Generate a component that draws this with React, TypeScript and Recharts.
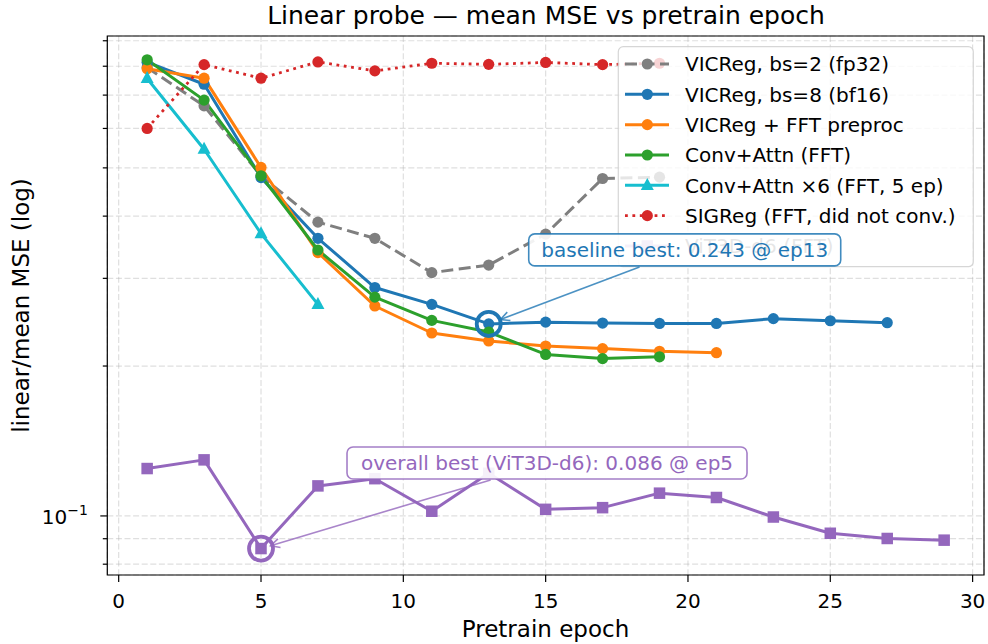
import React from 'react';
import {
  ComposedChart,
  Line,
  XAxis,
  YAxis,
  CartesianGrid,
  ReferenceDot,
  ReferenceArea,
  Customized,
} from 'recharts';

const FONT = '"DejaVu Sans", sans-serif';

// ---------- data ----------
const epochsTo19 = [1, 3, 5, 7, 9, 11, 13, 15, 17, 19];
const epochsTo21 = [1, 3, 5, 7, 9, 11, 13, 15, 17, 19, 21];
const epochsTo27 = [1, 3, 5, 7, 9, 11, 13, 15, 17, 19, 21, 23, 25, 27];
const epochsTo29 = [1, 3, 5, 7, 9, 11, 13, 15, 17, 19, 21, 23, 25, 27, 29];
const epochsTo7 = [1, 3, 5, 7];

const vicregBs2 = [0.795, 0.666, 0.482, 0.389, 0.361, 0.308, 0.319, 0.368, 0.476, 0.479];
const vicregBs8 = [0.815, 0.736, 0.478, 0.361, 0.2875, 0.266, 0.243, 0.245, 0.244, 0.2435, 0.2435, 0.249, 0.2466, 0.2444];
const vicregFft = [0.791, 0.757, 0.501, 0.338, 0.264, 0.233, 0.2246, 0.2194, 0.2168, 0.2141, 0.2127];
const convAttn = [0.824, 0.684, 0.482, 0.342, 0.275, 0.247, 0.234, 0.211, 0.207, 0.2087];
const convAttnX6 = [0.756, 0.545, 0.369, 0.266];
const sigreg = [0.6, 0.806, 0.757, 0.816, 0.783, 0.811, 0.807, 0.814, 0.806, 0.811];
const vit3d = [0.1245, 0.1296, 0.086, 0.1149, 0.1188, 0.1022, 0.1218, 0.1031, 0.1039, 0.1111, 0.1089, 0.0995, 0.0923, 0.0901, 0.0894];

const xTicks = [0, 5, 10, 15, 20, 25, 30];
const yTicks = [0.08, 0.09, 0.1, 0.2, 0.3, 0.4, 0.5, 0.6, 0.7, 0.8, 0.9];
const yMajorTicks = [0.1];

const baselineBest = { epoch: 13, value: 0.243, label: 'baseline best: 0.243 @ ep13' };
const overallBest = { epoch: 5, value: 0.086, label: 'overall best (ViT3D-d6): 0.086 @ ep5' };

const X_DOMAIN: [number, number] = [-0.4, 30.4];
const Y_DOMAIN: [number, number] = [0.0761, 0.92];

const rows = (xs: number[], ys: number[]) => xs.map((epoch, i) => ({ epoch, v: ys[i] }));

type Marker = 'circle' | 'square' | 'triangle';
interface SeriesDef {
  name: string;
  color: string;
  data: { epoch: number; v: number }[];
  dash?: string;
  marker: Marker;
  width: number;
}

const series: SeriesDef[] = [
  { name: 'VICReg, bs=2 (fp32)', color: '#7f7f7f', data: rows(epochsTo19, vicregBs2), dash: '12 5.5', marker: 'circle', width: 3 },
  { name: 'VICReg, bs=8 (bf16)', color: '#1f77b4', data: rows(epochsTo27, vicregBs8), marker: 'circle', width: 3 },
  { name: 'VICReg + FFT preproc', color: '#ff7f0e', data: rows(epochsTo21, vicregFft), marker: 'circle', width: 3 },
  { name: 'Conv+Attn (FFT)', color: '#2ca02c', data: rows(epochsTo19, convAttn), marker: 'circle', width: 3 },
  { name: 'Conv+Attn ×6 (FFT, 5 ep)', color: '#17becf', data: rows(epochsTo7, convAttnX6), marker: 'triangle', width: 3 },
  { name: 'SIGReg (FFT, did not conv.)', color: '#d62728', data: rows(epochsTo19, sigreg), dash: '2.8 4.6', marker: 'circle', width: 2.8 },
  { name: 'ViT3D-d6 (FFT)', color: '#9467bd', data: rows(epochsTo29, vit3d), marker: 'square', width: 3 },
];

// ---------- marker drawing ----------
const drawMarker = (m: Marker, color: string, cx: number, cy: number, key?: any) => {
  if (m === 'square') {
    const s = 11.5;
    return <rect key={key} x={cx - s / 2} y={cy - s / 2} width={s} height={s} fill={color} />;
  }
  if (m === 'triangle') {
    const w = 13, h = 12;
    return (
      <path
        key={key}
        d={`M${cx},${cy - h * 0.62} L${cx + w / 2},${cy + h * 0.38} L${cx - w / 2},${cy + h * 0.38} Z`}
        fill={color}
      />
    );
  }
  return <circle key={key} cx={cx} cy={cy} r={5.6} fill={color} />;
};

const makeDot = (m: Marker, color: string) => (p: any) => {
  if (p.cx == null || p.cy == null) return <g key={p.index} />;
  return drawMarker(m, color, p.cx, p.cy, p.index);
};

// ---------- ticks ----------
const XTick = (p: any) => (
  <text x={p.x} y={p.y + 25.5} textAnchor="middle" fontSize={20} fontFamily={FONT} fill="#000">
    {p.payload.value}
  </text>
);

const YTick = (p: any) => {
  const v = p.payload.value;
  const major = yMajorTicks.some((t) => Math.abs(t - v) < 1e-9);
  const len = major ? 7 : 4.5;
  return (
    <g>
      <line x1={p.x - len} x2={p.x} y1={p.y} y2={p.y} stroke="#000" strokeWidth={1.2} />
      {major && (
        <text x={p.x - 19.5} y={p.y + 8} textAnchor="end" fontSize={20} fontFamily={FONT} fill="#000">
          10
          <tspan fontSize={14} dy={-9}>−1</tspan>
        </text>
      )}
    </g>
  );
};

// ---------- legend (drawn in the overlay, above the lines) ----------
const legendShape = () => {
  const x0 = 618.3, y0 = 46.7, w = 355, h = 220;
  const rowY = (i: number) => 64 + i * 30.33;
  return (
    <g fontFamily={FONT}>
      <rect x={x0} y={y0} width={w} height={h} rx={5} fill="#fff" fillOpacity={0.8} stroke="#cccccc" strokeOpacity={0.8} strokeWidth={1.2} />
      {series.map((s, i) => (
        <g key={s.name}>
          <line x1={625} x2={669} y1={rowY(i)} y2={rowY(i)} stroke={s.color} strokeWidth={s.width} strokeDasharray={s.dash} />
          {drawMarker(s.marker, s.color, 647.3, rowY(i))}
          <text x={685} y={rowY(i) + 7.3} fontSize={20} fill="#000">
            {s.name}
          </text>
        </g>
      ))}
    </g>
  );
};

const Titles = () => (
  <g fontFamily={FONT} fill="#000">
    <text x={546} y={24} textAnchor="middle" fontSize={25}>
      Linear probe — mean MSE vs pretrain epoch
    </text>
    <text x={545.5} y={636.5} textAnchor="middle" fontSize={23}>
      Pretrain epoch
    </text>
    <text x={29} y={305.5} textAnchor="middle" fontSize={23} transform="rotate(-90 29 305.5)">
      linear/mean MSE (log)
    </text>
  </g>
);

// ---------- annotations ----------
const makeAnnotation = (color: string, text: string, dx: number, dy: number, w: number, h: number, tipGap: number) => (p: any) => {
  const cx = p.cx, cy = p.cy;
  if (cx == null || cy == null) return <g />;
  const bx = cx + dx, by = cy + dy;
  const vx = cx - bx, vy = cy - by;
  const L = Math.hypot(vx, vy);
  const ux = vx / L, uy = vy / L;
  const t = Math.min(w / 2 / Math.abs(ux), h / 2 / Math.abs(uy)) + 3;
  const sx = bx + ux * t, sy = by + uy * t;
  const tx = cx - ux * tipGap, ty = cy - uy * tipGap;
  const hl = 9, hw = 4.5;
  const hx = tx - ux * hl, hy = ty - uy * hl;
  const px = -uy, py = ux;
  const head = `M${hx + px * hw},${hy + py * hw} L${tx},${ty} L${hx - px * hw},${hy - py * hw}`;
  return (
    <g>
      <circle cx={cx} cy={cy} r={12} fill="none" stroke={color} strokeWidth={3.8} />
      <line x1={sx} y1={sy} x2={tx} y2={ty} stroke={color} strokeOpacity={0.8} strokeWidth={1.6} />
      <path d={head} fill="none" stroke={color} strokeOpacity={0.8} strokeWidth={1.6} />
      <rect x={bx - w / 2} y={by - h / 2} width={w} height={h} rx={6} fill="#fff" fillOpacity={0.9} stroke={color} strokeOpacity={0.85} strokeWidth={1.6} />
      <text x={bx} y={by + 6.8} textAnchor="middle" fontSize={20} fontFamily={FONT} fill={color}>
        {text}
      </text>
    </g>
  );
};

const MARGIN = { top: 36, right: 4, bottom: 29, left: 0 };

const axes = (visible: boolean) => [
  <XAxis
    key="x"
    type="number"
    dataKey="epoch"
    domain={X_DOMAIN}
    ticks={xTicks}
    allowDataOverflow
    interval={0}
    height={40}
    tickSize={visible ? 7 : 0}
    tickMargin={0}
    axisLine={false}
    tickLine={visible ? { stroke: '#000', strokeWidth: 1.2 } : false}
    tick={visible ? <XTick /> : false}
  />,
  <YAxis
    key="y"
    type="number"
    scale="log"
    domain={Y_DOMAIN}
    ticks={yTicks}
    allowDataOverflow
    interval={0}
    width={107.3}
    tickSize={0}
    tickMargin={0}
    axisLine={false}
    tickLine={false}
    tick={visible ? <YTick /> : false}
  />,
];

export default function App() {
  return (
    <div style={{ position: 'absolute', left: 0, top: 0, width: 988, height: 644, background: '#fff' }}>
      <div style={{ position: 'absolute', left: 0, top: 0 }}>
        <ComposedChart width={988} height={644} margin={MARGIN}>
          <CartesianGrid stroke="#b0b0b0" strokeOpacity={0.4} strokeDasharray="6 2.6" strokeWidth={1.2} />
          {axes(true)}
          <ReferenceArea x1={X_DOMAIN[0]} x2={X_DOMAIN[1]} y1={Y_DOMAIN[0]} y2={Y_DOMAIN[1]} fill="none" stroke="#000" strokeWidth={1.2} ifOverflow="visible" />
          {series.map((s) => (
            <Line
              key={s.name}
              data={s.data}
              dataKey="v"
              name={s.name}
              type="linear"
              stroke={s.color}
              strokeWidth={s.width}
              strokeDasharray={s.dash}
              strokeLinejoin="round"
              dot={makeDot(s.marker, s.color)}
              activeDot={false}
              isAnimationActive={false}
            />
          ))}
          <Customized component={<Titles />} />
        </ComposedChart>
      </div>
      <div style={{ position: 'absolute', left: 0, top: 0, pointerEvents: 'none' }}>
        <ComposedChart width={988} height={644} margin={MARGIN} data={series[6].data}>
          {axes(false)}
          <ReferenceDot x={20} y={0.5} r={1} ifOverflow="visible" shape={legendShape} />
          <ReferenceDot
            x={overallBest.epoch}
            y={overallBest.value}
            r={12}
            ifOverflow="visible"
            shape={makeAnnotation('#9467bd', overallBest.label, 286, -85.5, 400, 32, 10)}
          />
          <ReferenceDot
            x={baselineBest.epoch}
            y={baselineBest.value}
            r={12}
            ifOverflow="visible"
            shape={makeAnnotation('#1f77b4', baselineBest.label, 196, -74, 312, 32, 12.5)}
          />
        </ComposedChart>
      </div>
    </div>
  );
}
